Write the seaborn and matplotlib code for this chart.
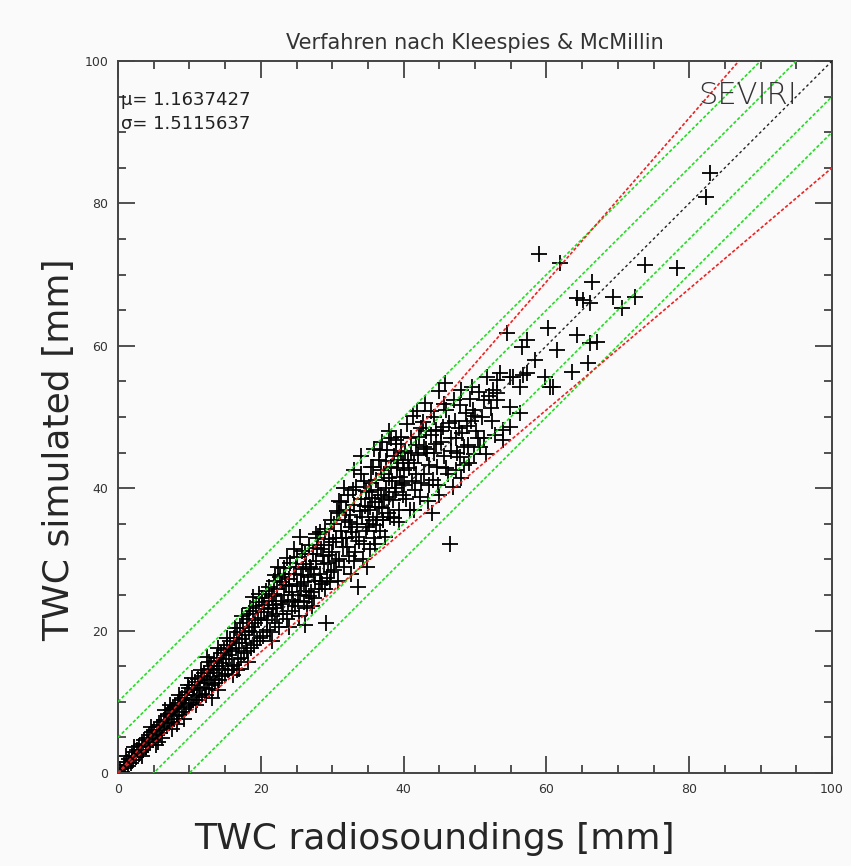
import matplotlib
matplotlib.use("Agg")
import matplotlib.pyplot as plt
from matplotlib.ticker import MultipleLocator
import seaborn as sns
import pandas as pd

# ---- data: (TWC radiosoundings, TWC simulated) pairs ----
region_0_10 = [
    (0.3, 0.5), (0.6, 0.2), (0.8, 1.1), (1.0, 0.7), (1.2, 1.6), (1.4, 1.0), (1.6, 2.0), (1.8, 1.4), (2.0, 2.4), (2.1, 1.8),
    (2.3, 2.9), (2.5, 2.2), (2.7, 3.3), (2.9, 2.6), (3.0, 3.8), (3.2, 3.0), (3.4, 4.1), (3.5, 3.3), (3.7, 4.6), (3.9, 3.6),
    (4.0, 4.9), (4.2, 4.0), (4.4, 5.3), (4.5, 4.4), (4.7, 5.7), (4.9, 4.6), (5.0, 6.1), (5.2, 5.0), (5.4, 6.4), (5.5, 5.3),
    (5.7, 6.8), (5.9, 5.6), (6.0, 7.2), (6.2, 6.0), (6.4, 7.5), (6.5, 6.3), (6.7, 8.0), (6.9, 6.6), (7.0, 8.3), (7.2, 7.0),
    (7.4, 8.8), (7.5, 7.2), (7.7, 9.1), (7.9, 7.6), (8.0, 9.4), (8.2, 8.0), (8.4, 9.9), (8.5, 8.2), (8.7, 10.3), (8.9, 8.5),
    (9.0, 10.6), (9.2, 9.0), (9.4, 11.0), (9.5, 9.2), (9.7, 11.4), (9.9, 9.6), (6.1, 4.9), (8.3, 6.9), (7.3, 9.6), (5.3, 3.9),
    (1.1, 2.4), (2.2, 3.6), (3.3, 2.4), (4.6, 6.4), (5.6, 4.4), (6.6, 8.8), (7.6, 6.2), (8.6, 11.0), (9.3, 7.6), (9.8, 12.4),
]
region_10_20 = [
    (10.0, 11.9), (10.2, 9.8), (10.3, 12.3), (10.5, 10.2), (10.6, 11.0), (10.8, 12.8), (10.9, 9.5), (11.1, 11.6), (11.2, 13.2), (11.4, 10.7),
    (11.5, 12.0), (11.7, 13.6), (11.8, 11.1), (12.0, 12.6), (12.1, 14.1), (12.3, 10.9), (12.4, 13.0), (12.6, 14.6), (12.7, 11.8), (12.9, 13.5),
    (13.0, 15.0), (13.2, 12.4), (13.3, 14.0), (13.5, 15.8), (13.6, 12.7), (13.8, 14.4), (13.9, 16.2), (14.1, 13.0), (14.2, 15.0), (14.4, 16.9),
    (14.5, 13.6), (14.7, 15.5), (14.8, 17.3), (15.0, 13.9), (15.1, 16.0), (15.3, 18.0), (15.4, 14.4), (15.6, 16.6), (15.7, 18.6), (15.9, 15.0),
    (16.0, 17.2), (16.2, 19.0), (16.3, 15.2), (16.5, 17.6), (16.6, 19.8), (16.8, 16.0), (16.9, 18.3), (17.1, 20.4), (17.2, 16.1), (17.4, 18.8),
    (17.5, 21.0), (17.7, 16.9), (17.8, 19.4), (18.0, 21.6), (18.1, 17.2), (18.3, 20.0), (18.4, 22.3), (18.6, 17.6), (18.7, 20.5), (18.9, 22.8),
    (19.0, 18.0), (19.2, 21.0), (19.3, 23.4), (19.5, 18.6), (19.6, 21.5), (19.8, 24.0), (19.9, 19.0), (14.0, 11.6), (17.0, 14.6), (12.5, 16.3),
    (10.4, 13.4), (11.0, 10.2), (11.6, 14.4), (12.2, 12.0), (12.8, 15.6), (13.4, 13.2), (14.0, 17.6), (14.6, 14.6), (15.2, 19.0), (15.8, 17.4),
    (16.4, 20.4), (16.7, 14.4), (17.3, 22.0), (17.9, 18.2), (18.5, 23.2), (19.1, 19.8), (19.7, 25.2), (18.2, 15.6), (16.1, 13.8), (13.1, 10.6),
]
region_20_30 = [
    (20.0, 21.8), (20.2, 24.6), (20.3, 19.2), (20.5, 22.6), (20.7, 25.5), (20.8, 20.1), (21.0, 23.0), (21.1, 26.1), (21.3, 19.8), (21.5, 22.0),
    (21.6, 24.8), (21.8, 27.0), (22.0, 21.0), (22.1, 23.6), (22.3, 25.9), (22.4, 29.0), (22.6, 20.5), (22.8, 24.2), (22.9, 26.8), (23.1, 22.3),
    (23.3, 25.0), (23.4, 27.9), (23.6, 21.6), (23.8, 24.0), (23.9, 26.3), (24.1, 29.5), (24.3, 22.8), (24.4, 25.4), (24.6, 28.0), (24.8, 23.5),
    (25.0, 26.6), (25.1, 30.3), (25.3, 22.0), (25.5, 25.0), (25.6, 27.8), (25.8, 31.2), (26.0, 24.0), (26.1, 26.8), (26.3, 29.4), (26.5, 23.2),
    (26.6, 27.5), (26.8, 32.0), (27.0, 25.4), (27.1, 28.6), (27.3, 30.8), (27.5, 24.6), (27.6, 26.9), (27.8, 29.8), (28.0, 33.0), (28.1, 25.8),
    (28.3, 28.0), (28.5, 31.4), (28.6, 26.5), (28.8, 29.3), (29.0, 34.2), (29.1, 21.1), (29.3, 27.4), (29.5, 30.6), (29.6, 32.8), (29.8, 28.2),
    (23.6, 30.2), (22.0, 27.8), (18.9, 24.7), (28.3, 33.8), (25.5, 33.1), (26.2, 20.8), (24.0, 20.5), (27.2, 23.5), (29.0, 25.8), (21.5, 18.5),
    (20.4, 23.6), (20.9, 21.5), (21.2, 24.2), (21.7, 23.2), (22.2, 22.4), (22.7, 27.5), (23.0, 23.8), (23.5, 26.4), (24.0, 27.2), (24.5, 24.3),
    (24.9, 29.0), (25.2, 24.2), (25.7, 26.2), (26.2, 30.8), (26.4, 25.6), (26.9, 29.0), (27.4, 27.8), (27.9, 31.6), (28.4, 27.0), (28.9, 32.0),
    (29.4, 29.5), (29.9, 35.5), (23.2, 28.8), (25.9, 28.6), (27.7, 33.5), (21.9, 25.2), (24.7, 31.5), (26.7, 24.8), (28.7, 30.5), (29.7, 26.8),
]
region_30_40 = [
    (30.0, 31.0), (30.2, 35.0), (30.3, 28.5), (30.5, 33.0), (30.7, 36.8), (30.8, 27.0), (31.0, 30.0), (31.2, 34.0), (31.3, 38.0), (31.5, 31.8),
    (31.7, 29.0), (31.8, 35.6), (32.0, 33.0), (32.2, 39.0), (32.3, 30.5), (32.5, 36.2), (32.7, 28.0), (32.8, 33.8), (33.0, 37.6), (33.2, 31.0),
    (33.3, 40.2), (33.5, 35.0), (33.6, 26.1), (33.8, 32.6), (34.0, 38.5), (34.2, 36.0), (34.3, 30.0), (34.5, 41.0), (34.7, 34.0), (34.9, 34.5),
    (35.0, 37.0), (35.2, 39.5), (35.3, 31.5), (35.5, 43.0), (35.7, 35.6), (35.8, 33.0), (36.0, 38.0), (36.2, 41.2), (36.3, 36.0), (36.5, 44.0),
    (36.7, 34.0), (36.8, 39.0), (37.0, 37.2), (37.1, 35.5), (37.3, 42.0), (37.5, 40.0), (37.7, 45.4), (37.8, 36.5), (38.0, 38.8), (38.2, 43.0),
    (38.4, 41.0), (38.5, 38.3), (38.7, 35.8), (38.9, 46.2), (39.0, 40.0), (39.2, 44.0), (39.4, 37.0), (39.5, 41.6), (39.7, 47.2), (39.9, 39.0),
    (35.3, 37.4), (37.1, 35.5), (39.0, 46.8), (36.7, 45.4), (35.7, 43.0), (31.0, 36.5), (33.0, 29.8), (34.0, 44.5), (36.0, 32.2), (38.0, 48.0),
    (30.1, 32.4), (30.6, 29.8), (30.9, 38.2), (31.4, 33.0), (31.9, 37.0), (32.1, 31.8), (32.6, 34.6), (32.9, 39.8), (33.4, 33.2), (33.9, 36.8),
    (34.1, 42.0), (34.4, 32.2), (34.8, 39.6), (35.1, 35.0), (35.4, 40.8), (35.9, 45.5), (36.1, 34.8), (36.4, 39.8), (36.9, 42.5), (37.2, 38.5),
    (37.4, 33.2), (37.9, 41.5), (38.1, 36.0), (38.6, 44.5), (38.8, 39.5), (39.1, 42.8), (39.3, 35.2), (39.6, 45.0), (39.8, 40.8), (34.6, 37.5),
    (33.1, 42.5), (36.6, 37.3), (38.3, 47.0), (32.4, 35.2), (35.6, 38.6), (37.6, 43.8), (39.9, 43.5), (31.6, 40.0), (34.9, 29.0), (37.0, 46.5),
]
region_40_52 = [
    (40.0, 42.5), (40.2, 45.2), (40.4, 38.5), (40.6, 44.0), (40.9, 36.9), (41.0, 47.0), (41.2, 41.0), (41.4, 43.5), (41.6, 39.8), (41.8, 46.0),
    (42.0, 44.6), (42.3, 38.8), (42.5, 48.5), (42.7, 49.3), (42.9, 42.0), (43.1, 45.5), (43.3, 44.9), (43.5, 40.5), (43.8, 47.5), (44.1, 41.2),
    (44.3, 50.0), (44.5, 46.2), (44.7, 43.0), (44.9, 53.6), (45.2, 48.0), (45.5, 48.6), (45.7, 44.5), (46.0, 51.0), (46.2, 42.0), (46.5, 32.2),
    (46.7, 47.0), (46.9, 40.2), (47.2, 49.5), (47.5, 45.0), (47.9, 51.7), (47.9, 44.4), (48.2, 47.8), (48.5, 43.2), (48.8, 50.5), (49.0, 46.0),
    (49.3, 52.5), (49.7, 51.0), (49.9, 44.8), (50.2, 48.0), (50.7, 45.8), (51.0, 50.0), (51.3, 47.0), (51.7, 55.6), (52.0, 53.0), (52.4, 49.5),
    (41.5, 37.0), (43.0, 52.0), (45.0, 39.0), (48.0, 41.5), (50.5, 53.5),
    (40.1, 40.5), (40.5, 49.0), (40.8, 42.8), (41.1, 45.0), (41.3, 50.2), (41.7, 42.0), (42.1, 47.2), (42.4, 40.8), (42.8, 45.8), (43.2, 48.0),
    (43.6, 43.2), (43.9, 50.8), (44.2, 45.0), (44.6, 48.2), (44.8, 40.5), (45.3, 46.5), (45.6, 51.8), (45.9, 42.8), (46.3, 49.2), (46.6, 45.2),
    (47.0, 52.4), (47.4, 42.5), (47.7, 48.5), (48.1, 53.8), (48.4, 45.8), (48.9, 48.8), (49.2, 43.5), (49.6, 54.2), (50.0, 50.2), (50.4, 47.0),
    (51.2, 52.4), (51.5, 44.8), (52.2, 51.2), (52.8, 47.5), (43.4, 38.2), (45.8, 54.8), (47.3, 47.0), (49.5, 49.5), (41.9, 50.8), (44.0, 36.5),
]
region_52_85 = [
    (53.5, 56.2), (55.3, 55.6), (57.3, 56.2), (53.1, 53.4), (54.9, 48.6), (53.9, 46.8), (54.5, 61.8), (57.3, 60.8), (56.6, 59.8), (61.5, 59.4),
    (58.4, 58.0), (63.6, 56.3), (65.8, 57.6), (59.8, 55.6), (60.5, 54.2), (54.9, 55.6), (56.3, 54.2), (60.2, 62.5), (64.3, 61.5), (66.1, 60.4),
    (67.1, 60.5), (53.1, 55.2), (52.5, 53.8), (56.3, 50.6), (53.1, 52.4), (54.9, 51.4), (53.9, 48.2), (60.9, 54.2), (56.7, 55.9),
    (59.0, 72.9), (61.9, 71.6), (66.4, 69.0), (65.1, 66.4), (64.3, 66.7), (66.1, 66.0), (69.3, 66.9), (72.4, 66.9), (70.6, 65.3),
    (73.8, 71.3), (78.3, 70.9), (82.4, 80.9), (82.9, 84.3),
]

green_offsets = [-10, -5, 5, 10]      # y = x +/- offset
red_factors = [0.85, 1.15]            # y = factor * x
line_x = [0, 100]

title = "Verfahren nach Kleespies & McMillin"
x_label = "TWC radiosoundings [mm]"
y_label = "TWC simulated [mm]"
mu_text = "\u03bc= 1.1637427"
sigma_text = "\u03c3= 1.5115637"
sat_text = "SEVIRI"

pairs = region_0_10 + region_10_20 + region_20_30 + region_30_40 + region_40_52 + region_52_85
df = pd.DataFrame(pairs, columns=["radiosonde", "simulated"])

# ---- figure ----
sns.set_style("ticks")
plt.rcParams["font.family"] = ["DejaVu Sans"]
BG = "#fafafa"
fig = plt.figure(figsize=(8.51, 8.66), dpi=100, facecolor=BG)
ax = fig.add_axes([118 / 851, 1 - 773 / 866, 714 / 851, 712 / 866], facecolor=BG)

sns.scatterplot(data=df, x="radiosonde", y="simulated", marker="+", s=120,
                color="black", linewidth=1.3, ax=ax, zorder=2, legend=False)

ax.plot(line_x, line_x, color="#222222", lw=1.0, ls=(0, (2, 2)), zorder=3)
for off in green_offsets:
    ax.plot(line_x, [v + off for v in line_x], color="#22dd22", lw=1.2,
            ls=(0, (2, 1.2)), zorder=3)
for f in red_factors:
    ax.plot(line_x, [v * f for v in line_x], color="#ee2222", lw=1.2,
            ls=(0, (2, 1.2)), zorder=3)

ax.set_xlim(0, 100)
ax.set_ylim(0, 100)
ax.xaxis.set_major_locator(MultipleLocator(20))
ax.yaxis.set_major_locator(MultipleLocator(20))
ax.xaxis.set_minor_locator(MultipleLocator(5))
ax.yaxis.set_minor_locator(MultipleLocator(5))
ax.tick_params(which="both", direction="in", top=True, right=True,
               color="#333333", width=1.2)
ax.tick_params(which="major", length=12, labelsize=9, pad=7, labelcolor="#333333")
ax.tick_params(which="minor", length=6)
for sp in ax.spines.values():
    sp.set_color("#444444")
    sp.set_linewidth(1.4)
    sp.set_visible(True)

ax.set_xlabel(x_label, fontsize=26)
ax.set_ylabel(y_label, fontsize=26)
ax.xaxis.set_label_coords(0.443, -0.069)
ax.yaxis.set_label_coords(-0.058, 0.454)

fig.text(0.558, 0.950, title, ha="center", va="center", fontsize=15, color="#333333")
ax.text(0.004, 0.945, mu_text, transform=ax.transAxes, ha="left", va="center",
        fontsize=13, color="#222222")
ax.text(0.004, 0.911, sigma_text, transform=ax.transAxes, ha="left", va="center",
        fontsize=13, color="#222222")
ax.text(0.882, 0.952, sat_text, transform=ax.transAxes, ha="center", va="center",
        fontsize=22, color="#333333", fontweight="light")

fig.savefig("out.png", dpi=100, facecolor=BG)
